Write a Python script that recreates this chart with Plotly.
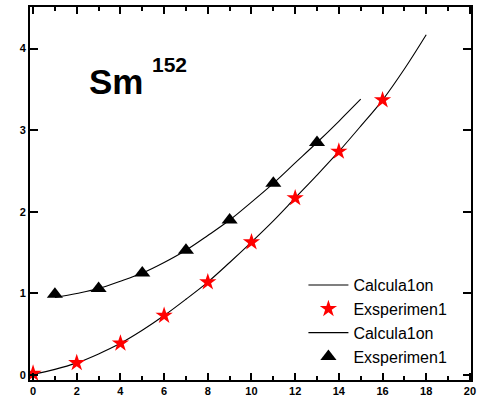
import plotly.graph_objects as go

# Ground-state band energies (MeV) versus spin for Sm-152
calc_lower_x = [0, 1, 2, 3, 4, 5, 6, 7, 8, 9, 10, 11, 12, 13, 14, 15, 16, 17, 18]
calc_lower_y = [0.01, 0.07, 0.15, 0.26, 0.39, 0.55, 0.73, 0.93, 1.14, 1.38, 1.63,
                1.89, 2.17, 2.45, 2.74, 3.05, 3.37, 3.75, 4.17]

exp_star_x = [0, 2, 4, 6, 8, 10, 12, 14, 16]
exp_star_y = [0.02, 0.15, 0.39, 0.73, 1.14, 1.63, 2.17, 2.74, 3.37]

calc_upper_x = [1, 2, 3, 4, 5, 6, 7, 8, 9, 10, 11, 12, 13, 14, 15]
calc_upper_y = [0.95, 1.00, 1.06, 1.15, 1.25, 1.38, 1.53, 1.71, 1.90, 2.12, 2.35,
                2.60, 2.85, 3.11, 3.38]

exp_tri_x = [1, 3, 5, 7, 9, 11, 13]
exp_tri_y = [0.99, 1.06, 1.25, 1.53, 1.90, 2.35, 2.85]

FONT = "Liberation Sans, Arial, sans-serif"

fig = go.Figure()
fig.add_trace(go.Scatter(x=calc_lower_x, y=calc_lower_y, mode="lines",
                         line=dict(color="black", width=1.1, shape="spline"),
                         name="Calcula1on"))
fig.add_trace(go.Scatter(x=exp_star_x, y=exp_star_y, mode="markers",
                         marker=dict(symbol="star", size=13, color="red"),
                         name="Exsperimen1"))
fig.add_trace(go.Scatter(x=calc_upper_x, y=calc_upper_y, mode="lines",
                         line=dict(color="black", width=1.1, shape="spline"),
                         name="Calcula1on"))
fig.add_trace(go.Scatter(x=exp_tri_x, y=exp_tri_y, mode="markers",
                         marker=dict(symbol="triangle-up", size=14, color="black"),
                         name="Exsperimen1"))

fig.add_annotation(x=2.45, y=3.60, xref="x", yref="y", text="<b>Sm</b>",
                   showarrow=False, xanchor="left", yanchor="middle",
                   font=dict(family=FONT, size=35, color="black"))
fig.add_annotation(x=5.35, y=3.80, xref="x", yref="y", text="<b>152</b>",
                   showarrow=False, xanchor="left", yanchor="middle",
                   font=dict(family=FONT, size=21, color="black"))

fig.update_layout(
    width=481, height=406,
    margin=dict(l=30, r=7, t=5, b=26),
    paper_bgcolor="white", plot_bgcolor="white",
    font=dict(family=FONT, size=11, color="black"),
    showlegend=True,
    legend=dict(x=0.62, y=0.30, xanchor="left", yanchor="top",
                bgcolor="rgba(0,0,0,0)", font=dict(family=FONT, size=16, color="black"),
                traceorder="normal", itemwidth=40),
)
fig.update_xaxes(range=[-0.14, 20.05], tick0=0, dtick=2, ticks="inside", ticklen=7,
                 tickwidth=1.5, tickcolor="black", showline=True, linewidth=2,
                 linecolor="black", mirror="ticks", showgrid=False, zeroline=False,
                 tickfont=dict(family=FONT, size=11, color="black", weight="bold"),
                 minor=dict(dtick=1, ticks="inside", ticklen=4, tickwidth=1.5,
                            tickcolor="black", showgrid=False))
fig.update_yaxes(range=[-0.06, 4.51], tick0=0, dtick=1, ticks="inside", ticklen=8,
                 tickwidth=1.5, tickcolor="black", showline=True, linewidth=2,
                 linecolor="black", mirror="ticks", showgrid=False, zeroline=False,
                 tickfont=dict(family=FONT, size=11, color="black", weight="bold"))

fig.write_html("out.html")
